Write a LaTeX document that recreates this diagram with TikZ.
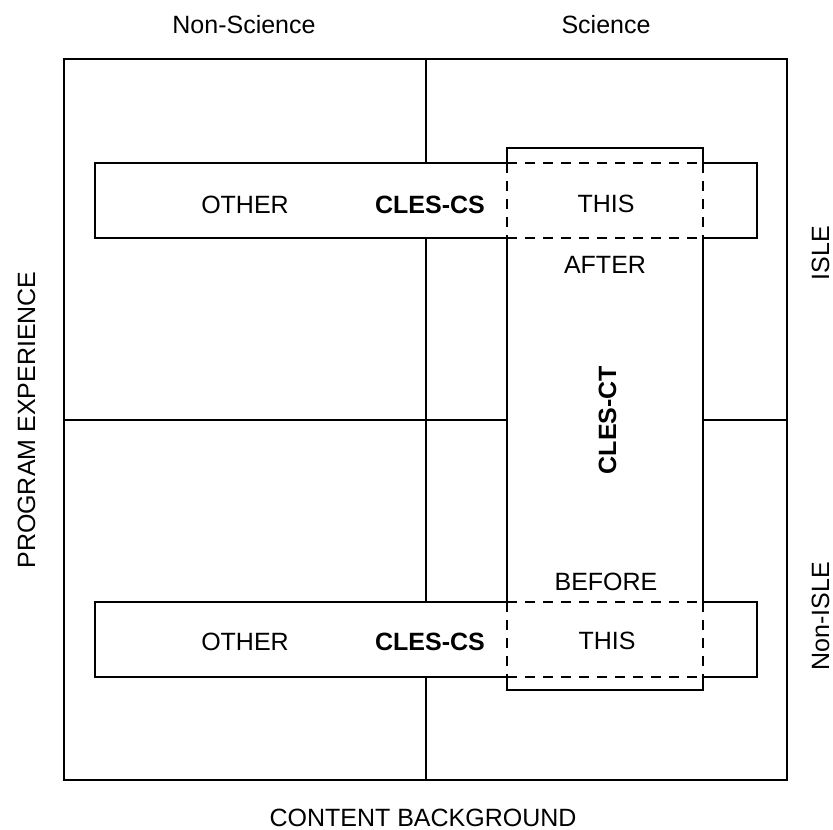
\documentclass[tikz,border=0pt]{standalone}
\usepackage{fontspec}
\setmainfont{Liberation Sans}
\tikzset{
  lbl/.style={font=\fontsize{25}{30}\selectfont, inner sep=0pt, anchor=base},
  bld/.style={font=\fontsize{25}{30}\selectfont\bfseries, inner sep=0pt, anchor=base},
  frameline/.style={line width=2pt, line join=miter},
  dashline/.style={line width=2pt, dash pattern=on 10pt off 8pt},
}
\begin{document}
\begin{tikzpicture}[x=1pt,y=-1pt]
\useasboundingbox (0,0) rectangle (833,830);
% outer grid
\draw[frameline] (64,59) rectangle (787,780);
\draw[frameline] (426,59) -- (426,780);
\draw[frameline] (64,420) -- (787,420);
% white fills of the bands
\fill[white] (507,148) rectangle (703,690);
\fill[white] (95,163) rectangle (757,238);
\fill[white] (95,602) rectangle (757,677);
% top band (solid parts)
\draw[frameline] (507,163) -- (95,163) -- (95,238) -- (507,238);
\draw[frameline] (703,163) -- (757,163) -- (757,238) -- (703,238);
% bottom band (solid parts)
\draw[frameline] (507,602) -- (95,602) -- (95,677) -- (507,677);
\draw[frameline] (703,602) -- (757,602) -- (757,677) -- (703,677);
% vertical band (solid parts)
\draw[frameline] (507,163) -- (507,148) -- (703,148) -- (703,163);
\draw[frameline] (507,238) -- (507,602);
\draw[frameline] (703,238) -- (703,602);
\draw[frameline] (507,677) -- (507,690) -- (703,690) -- (703,677);
% dashed overlaps
\draw[dashline] (507,163) -- (703,163);
\draw[dashline] (507,238) -- (703,238);
\draw[dashline] (507,163) -- (507,238);
\draw[dashline] (703,163) -- (703,238);
\draw[dashline] (507,602) -- (703,602);
\draw[dashline] (507,677) -- (703,677);
\draw[dashline] (507,602) -- (507,677);
\draw[dashline] (703,602) -- (703,677);
% labels
\node[lbl] (nonsci) at (244,33) {Non-Science};
\node[lbl] (sci) at (606,33) {Science};
\node[lbl] (content) at (423,826) {CONTENT BACKGROUND};
\node[lbl, rotate=90] (program) at (35,420) {PROGRAM EXPERIENCE};
\node[lbl, rotate=90] (isle) at (829,253) {ISLE};
\node[lbl, rotate=90] (nonisle) at (829,616) {Non-ISLE};
\node[lbl] (othertop) at (245,213) {OTHER};
\node[bld] (clescstop) at (430,213) {CLES-CS};
\node[lbl] (thistop) at (606,212) {THIS};
\node[lbl] (after) at (605,273) {AFTER};
\node[bld, rotate=90] (clesct) at (616,420) {CLES-CT};
\node[lbl] (before) at (606,590) {BEFORE};
\node[lbl] (otherbot) at (245,650) {OTHER};
\node[bld] (clescsbot) at (430,650) {CLES-CS};
\node[lbl] (thisbot) at (607,649) {THIS};
\end{tikzpicture}
\end{document}
